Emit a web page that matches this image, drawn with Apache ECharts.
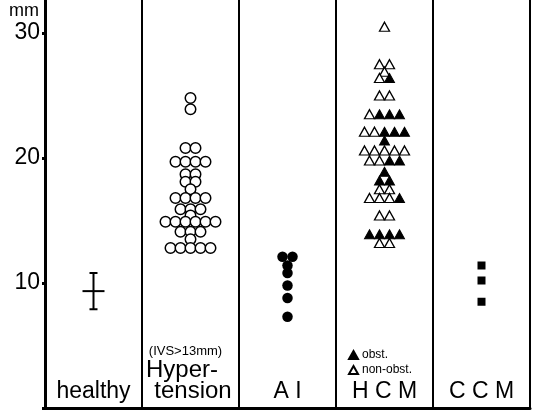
<!DOCTYPE html>
<html>
<head>
<meta charset="utf-8">
<script src="https://cdn.jsdelivr.net/npm/echarts@6/dist/echarts.min.js"></script>
<style>
	html, body { margin: 0; padding: 0; background: #fff; }
	#chart-area { width: 534px; height: 417px; }
</style>
</head>
<body>
<div id="chart-area"></div>
<script>
// groups along the x axis
const categories = ['healthy', 'Hypertension', 'AI', 'HCM', 'CCM'];
const yTicks = [10, 20, 30];

// healthy: mean +/- SD (mm)
const healthyMean = 9.35;
const healthySD = 1.45;

// septal thickness (mm), one value per patient
const hypertension = [
	24.8, 23.9, 20.8, 20.8, 19.7, 19.7, 19.7, 19.7, 18.7, 18.7, 18.1, 18.1, 17.5,
	16.8, 16.8, 16.8, 16.8, 15.9, 15.9, 15.9, 15.4,
	14.9, 14.9, 14.9, 14.9, 14.9, 14.9, 14.1, 14.1, 14.1, 13.5,
	12.8, 12.8, 12.8, 12.8, 12.8
];
const aorticInsuff = [12.1, 12.1, 11.4, 10.8, 9.8, 8.8, 7.3];
const hcmNonObst = [
	30.5, 27.5, 27.5, 26.9, 26.4, 25.0, 25.0, 23.5, 22.1, 22.1,
	20.6, 20.6, 20.6, 20.6, 20.6, 19.8, 19.8, 17.5, 17.5,
	16.8, 16.8, 16.8, 15.4, 15.4, 13.2, 13.2
];
const hcmObst = [
	26.4, 23.5, 23.5, 23.5, 22.1, 22.1, 22.1, 21.4, 19.8, 19.8,
	18.9, 18.2, 18.2, 16.8, 13.9, 13.9, 13.9, 13.9
];
const ccm = [11.4, 10.2, 8.5];

// equal values in a column are put side by side, centred on the column
function dotRows(cat, groups, gap) {
	const rows = {};
	groups.forEach(function (vals, g) {
		vals.forEach(function (v) {
			(rows[v] = rows[v] || []).push(g);
		});
	});
	const out = groups.map(function () { return []; });
	Object.keys(rows).forEach(function (k) {
		const row = rows[k];
		row.forEach(function (g, i) {
			out[g].push({ value: [cat, +k], symbolOffset: [(i - (row.length - 1) / 2) * gap, 0] });
		});
	});
	return out;
}

const hyperData = dotRows(1, [hypertension], 10)[0];
const aiData = dotRows(2, [aorticInsuff], 10)[0];
const hcmData = dotRows(3, [hcmNonObst, hcmObst], 10);
const ccmData = dotRows(4, [ccm], 10)[0];

const font = 'Liberation Sans, Arial, sans-serif';

let chartDom = document.getElementById('chart-area');
let myChart = echarts.init(chartDom);
let option;
option = {
	backgroundColor: '#fff',
	animation: false,
	textStyle: { fontFamily: font, color: '#000' },
	grid: { left: 45, right: 4, top: 0, bottom: 9 },
	legend: {
		data: ['obst.', 'non-obst.'],
		orient: 'vertical',
		left: 348,
		top: 349,
		padding: 0,
		itemGap: 3,
		itemWidth: 9,
		itemHeight: 8,
		textStyle: { fontFamily: font, fontSize: 12, color: '#000', padding: [0, 0, 0, -1] }
	},
	xAxis: {
		type: 'category',
		data: [
			'healthy',
			'{s|(IVS>13mm)}\n{a|Hyper-}\n{b|tension}',
			'A I',
			'H C M',
			'C C M'
		],
		axisLine: { lineStyle: { color: '#000', width: 3 } },
		axisTick: { show: false },
		splitLine: { show: true, interval: 0, lineStyle: { color: '#000', width: 2 } },
		axisLabel: {
			inside: true,
			interval: 0,
			hideOverlap: false,
			margin: 6,
			color: '#000',
			fontFamily: font,
			fontSize: 23,
			lineHeight: 21,
			rich: {
				s: { fontSize: 13, lineHeight: 17, padding: [0, 10, 0, 0], fontFamily: font, color: '#000' },
				a: { fontSize: 24, lineHeight: 21, padding: [0, 17, 0, 0], fontFamily: font, color: '#000' },
				b: { fontSize: 24, lineHeight: 21, padding: [0, 0, 0, 5], fontFamily: font, color: '#000' }
			}
		}
	},
	yAxis: {
		type: 'value',
		min: 0,
		max: 32.64,
		interval: 10,
		name: 'mm',
		nameLocation: 'end',
		nameGap: -20,
		nameTextStyle: { fontFamily: font, fontSize: 18, color: '#000', align: 'right', padding: [0, 6, 0, 0] },
		axisLine: { show: true, lineStyle: { color: '#000', width: 3 } },
		axisTick: { show: true, length: 3, lineStyle: { color: '#000', width: 3 } },
		splitLine: { show: false },
		axisLabel: {
			margin: 5,
			color: '#000',
			fontFamily: font,
			fontSize: 23,
			showMaxLabel: false,
			formatter: function (v) { return yTicks.indexOf(v) >= 0 ? String(v) : ''; }
		}
	},
	series: [
		{
			name: 'healthy',
			type: 'custom',
			data: [[0, healthyMean, healthySD]],
			renderItem: function (params, api) {
				const x = api.value(0);
				const m = api.value(1);
				const sd = api.value(2);
				const c = api.coord([x, m]);
				const hi = api.coord([x, m + sd]);
				const lo = api.coord([x, m - sd]);
				const style = { stroke: '#000', lineWidth: 2 };
				return {
					type: 'group',
					children: [
						{ type: 'line', shape: { x1: c[0], y1: hi[1], x2: c[0], y2: lo[1] }, style: style },
						{ type: 'line', shape: { x1: c[0] - 11, y1: c[1], x2: c[0] + 11, y2: c[1] }, style: style },
						{ type: 'line', shape: { x1: c[0] - 4, y1: hi[1], x2: c[0] + 4, y2: hi[1] }, style: style },
						{ type: 'line', shape: { x1: c[0] - 4, y1: lo[1], x2: c[0] + 4, y2: lo[1] }, style: style }
					]
				};
			}
		},
		{
			name: 'Hypertension',
			type: 'scatter',
			symbol: 'circle',
			symbolSize: 10.5,
			itemStyle: { color: '#fff', borderColor: '#000', borderWidth: 1.5, opacity: 1 },
			data: hyperData
		},
		{
			name: 'AI',
			type: 'scatter',
			symbol: 'circle',
			symbolSize: 10.5,
			itemStyle: { color: '#000', opacity: 1 },
			data: aiData
		},
		{
			name: 'non-obst.',
			type: 'scatter',
			symbol: 'triangle',
			symbolSize: [10, 9],
			itemStyle: { color: '#fff', borderColor: '#000', borderWidth: 1.3, opacity: 1 },
			data: hcmData[0]
		},
		{
			name: 'obst.',
			type: 'scatter',
			symbol: 'triangle',
			symbolSize: [10, 9],
			itemStyle: { color: '#000', borderColor: '#000', borderWidth: 1, opacity: 1 },
			data: hcmData[1]
		},
		{
			name: 'CCM',
			type: 'scatter',
			symbol: 'rect',
			symbolSize: 8,
			itemStyle: { color: '#000', opacity: 1 },
			data: ccmData
		}
	]
};

option && myChart.setOption(option);
</script>
</body>
</html>
